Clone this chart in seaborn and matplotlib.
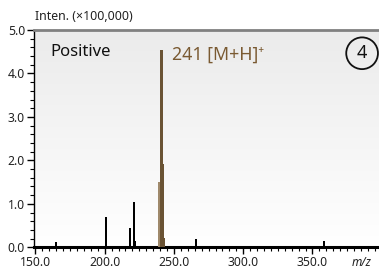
import numpy as np
import pandas as pd
import seaborn as sns
import matplotlib
matplotlib.use("Agg")
import matplotlib.pyplot as plt
from matplotlib.ticker import MultipleLocator, FormatStrFormatter

# ---- data (intensity in units of 100,000) ----
mz = [165.0, 201.0, 218.0, 221.0, 222.0, 239.0, 241.0, 242.0, 243.0, 266.0, 358.0]
intensity = [0.12, 0.69, 0.44, 1.04, 0.15, 1.50, 4.55, 1.92, 0.22, 0.18, 0.14]
group = ["other", "other", "other", "other", "other", "isotope", "ion", "ion", "ion", "other", "other"]
x_ticks = [150.0, 200.0, 250.0, 300.0, 350.0]
y_ticks = [0.0, 1.0, 2.0, 3.0, 4.0, 5.0]
mode_label = "Positive"
ion_label = "241 [M+H]\u207a"
panel_label = "4"

df = pd.DataFrame({"mz": mz, "intensity": intensity, "group": group})

sns.set_style("ticks")
plt.rcParams["font.family"] = ["Noto Sans", "DejaVu Sans"]

fig = plt.figure(figsize=(3.79, 2.68), dpi=100)
ax = fig.add_axes([34 / 379, 1 - 247.3 / 268, 1 - 34 / 379, (247.3 - 30) / 268])

# gradient background
grad = np.linspace(0, 1, 256).reshape(-1, 1)
ax.imshow(grad, extent=[0, 1, 0, 1], transform=ax.transAxes, aspect="auto",
          cmap=matplotlib.colors.LinearSegmentedColormap.from_list("g", ["#ffffff", "#ebebeb"]),
          origin="lower", zorder=0)

palette = {"other": "#000000", "ion": "#73542b", "isotope": "#a88a62"}
sns.barplot(data=df, x="mz", y="intensity", hue="group", palette=palette,
            native_scale=True, dodge=False, width=1.5, linewidth=0, legend=False,
            errorbar=None, ax=ax, zorder=3)

ax.set_xlim(149, 398)
ax.set_ylim(0, 5.0)
ax.set_xlabel("")
ax.set_ylabel("")

ax.xaxis.set_major_locator(matplotlib.ticker.FixedLocator(x_ticks))
ax.xaxis.set_minor_locator(MultipleLocator(5))
ax.yaxis.set_major_locator(matplotlib.ticker.FixedLocator(y_ticks))
ax.yaxis.set_minor_locator(MultipleLocator(0.2))
ax.xaxis.set_major_formatter(FormatStrFormatter("%.1f"))
ax.yaxis.set_major_formatter(FormatStrFormatter("%.1f"))
ax.tick_params(axis="both", which="major", length=5, width=1, color="#000000",
               labelsize=8.8, labelcolor="#222222", pad=1.5)
ax.tick_params(axis="x", which="major", pad=1.5)
ax.tick_params(axis="both", which="minor", length=3, width=0.8, color="#000000")

ax.spines["left"].set_color("#000000")
ax.spines["left"].set_linewidth(1)
ax.spines["bottom"].set_color("#000000")
ax.spines["bottom"].set_linewidth(2.2)
ax.spines["top"].set_visible(True)
ax.spines["top"].set_color("#808080")
ax.spines["top"].set_linewidth(2)
ax.spines["right"].set_visible(False)

ax.text(0.047, 0.9, mode_label, transform=ax.transAxes, fontsize=12, color="#111111",
        va="center", ha="left")
ax.text(248.5, 4.43, ion_label, fontsize=12.8, color="#7a5a32", va="center", ha="left")
ax.text(0.951, 0.893, panel_label, transform=ax.transAxes, fontsize=13, color="#111111",
        va="center", ha="center",
        bbox=dict(boxstyle="circle,pad=0.38", fc="none", ec="#111111", lw=1.3))

fig.text(35 / 379, 1 - 17 / 268, "Inten. (\u00d7100,000)", fontsize=8.9, color="#222222",
         va="center", ha="left")
fig.text(352 / 379, 1 - 262 / 268, "m/z", fontsize=8.5, style="italic", color="#222222",
         va="center", ha="left")

fig.savefig("out.png", dpi=100)
